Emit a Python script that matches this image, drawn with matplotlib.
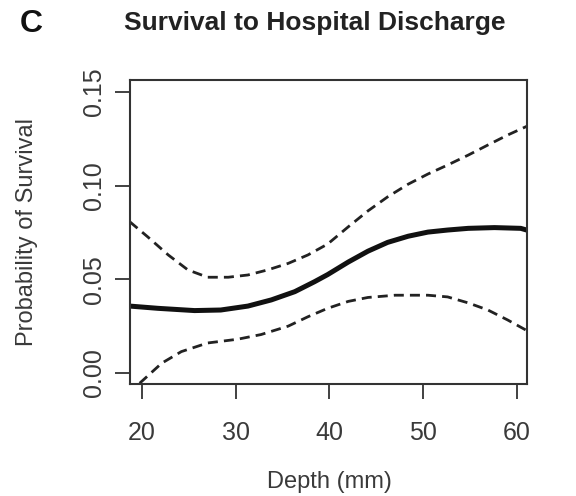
import matplotlib
matplotlib.use("Agg")
import matplotlib.pyplot as plt

plt.rcParams['font.family'] = ['Liberation Sans', 'DejaVu Sans']

# Depth (mm) and fitted probability of survival
depth_fit = [18.7, 21.7, 25.6, 28.4, 31.3, 33.8, 36.3, 38.4, 39.8, 42.0, 44.1, 46.2,
             48.4, 50.5, 52.6, 54.8, 57.6, 60.4, 61.1]
prob_fit = [0.0357, 0.0345, 0.0333, 0.0336, 0.0357, 0.039, 0.0434, 0.0487, 0.0525, 0.0592,
            0.0650, 0.0697, 0.0730, 0.0752, 0.0763, 0.0772, 0.0776, 0.0772, 0.0762]

# Upper confidence bound
depth_upper = [18.7, 20.6, 22.8, 24.9, 27.0, 29.2, 31.3, 33.4, 35.6, 37.7, 39.8, 42.0,
               44.1, 46.2, 48.4, 50.5, 52.6, 54.8, 56.9, 59.0, 61.1]
prob_upper = [0.0807, 0.0727, 0.063, 0.055, 0.0511, 0.0511, 0.0523, 0.055, 0.0585, 0.063,
              0.0688, 0.078, 0.0865, 0.094, 0.1008, 0.1062, 0.111, 0.1163, 0.1217, 0.127, 0.1318]

# Lower confidence bound
depth_lower = [19.75, 22.1, 24.2, 27.0, 30.2, 32.7, 35.6, 37.7, 39.8, 42.0, 44.1, 47.0,
               50.5, 52.6, 54.8, 56.9, 59.0, 61.1]
prob_lower = [-0.0055, 0.0052, 0.0114, 0.0160, 0.0180, 0.0205, 0.0250, 0.0300, 0.0345,
              0.0382, 0.0403, 0.0415, 0.0415, 0.0406, 0.0374, 0.0336, 0.0283, 0.0225]

x_ticks = [20, 30, 40, 50, 60]
y_ticks = [0.00, 0.05, 0.10, 0.15]
y_tick_labels = ["0.00", "0.05", "0.10", "0.15"]

W, H = 576, 496
fig = plt.figure(figsize=(W/100, H/100), dpi=100)
ax = fig.add_axes([130/W, 1-384/H, (527-130)/W, (384-80)/H])

col = '#222222'
ax.plot(depth_fit, prob_fit, color='#111111', lw=3.6, solid_capstyle='butt', solid_joinstyle='round')
ax.plot(depth_upper, prob_upper, color=col, lw=2.0, ls=(0, (3.6, 2.2)))
ax.plot(depth_lower, prob_lower, color=col, lw=2.0, ls=(0, (3.6, 2.2)))

ax.set_xlim(18.72, 61.07)
ax.set_ylim(-0.0059, 0.1564)

ax.set_xticks(x_ticks)
ax.set_yticks(y_ticks)
ax.set_yticklabels(y_tick_labels, rotation=90, va='center')
ax.tick_params(axis='both', direction='out', length=10.5, width=1.3, color='#333333',
               labelsize=18, labelcolor='#3a3a3a')
ax.tick_params(axis='x', pad=16)
ax.tick_params(axis='y', pad=7)
for s in ax.spines.values():
    s.set_linewidth(1.5)
    s.set_color('#333333')

txt = '#3a3a3a'
fig.text(329/W, 1-482/H, "Depth (mm)", fontsize=17, color=txt, ha='center', va='center')
fig.text(27/W, 1-232/H, "Probability of Survival", fontsize=17, color=txt,
         ha='center', va='center', rotation=90)

fig.text(315/W, 1-23/H, "Survival to Hospital Discharge", fontsize=19, fontweight='bold',
         ha='center', va='center', color='#222222')
fig.text(31/W, 1-24/H, "C", fontsize=23, fontweight='bold', ha='center', va='center', color='#111111')

fig.savefig("out.png", dpi=100)
